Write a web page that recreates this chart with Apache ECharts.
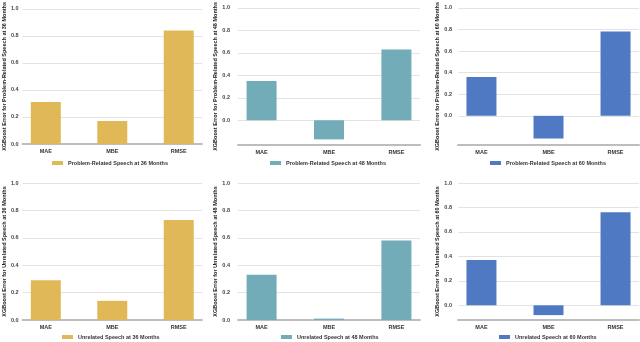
<!DOCTYPE html>
<html>
<head>
<meta charset="utf-8">
<script src="https://cdn.jsdelivr.net/npm/echarts@6/dist/echarts.min.js"></script>
<style>
  html, body { margin: 0; padding: 0; background: #fff; }
  #chart { width: 640px; height: 342px; }
</style>
</head>
<body>
<div id="chart"></div>
<script>
// categories and tick labels
const categories = ['MAE', 'MBE', 'RMSE'];
const yTicks = [0, 0.2, 0.4, 0.6, 0.8, 1.0];

// XGBoost errors
const problem36 = [0.31, 0.17, 0.84];
const problem48 = [0.35, -0.17, 0.63];
const problem60 = [0.36, -0.21, 0.78];
const unrelated36 = [0.29, 0.14, 0.73];
const unrelated48 = [0.33, 0.01, 0.58];
const unrelated60 = [0.37, -0.08, 0.76];

const seriesNames = [
  'Problem-Related Speech at 36 Months',
  'Problem-Related Speech at 48 Months',
  'Problem-Related Speech at 60 Months',
  'Unrelated Speech at 36 Months',
  'Unrelated Speech at 48 Months',
  'Unrelated Speech at 60 Months'
];
const axisNames = [
  'XGBoost Error for Problem-Related Speech at 36 Months',
  'XGBoost Error for Problem-Related Speech at 48 Months',
  'XGBoost Error for Problem-Related Speech at 60 Months',
  'XGBoost Error for Unrelated Speech at 36 Months',
  'XGBoost Error for Unrelated Speech at 48 Months',
  'XGBoost Error for Unrelated Speech at 60 Months'
];
const allValues = [problem36, problem48, problem60, unrelated36, unrelated48, unrelated60];
const yMins = [0, -0.22, -0.27, 0, 0, -0.12];

// layout of the six panels
const panels = [
  { left: 19, top: 6, width: 183, height: 138, color: '#E1B857', gap: 12, margin: 4, legendLeft: 52, legendTop: 160 },
  { left: 238, top: 6, width: 182, height: 139, color: '#72ACB8', gap: 18, margin: 8, legendLeft: 270, legendTop: 160 },
  { left: 458, top: 6, width: 181, height: 139, color: '#5079C4', gap: 14, margin: 6, legendLeft: 490, legendTop: 160 },
  { left: 19, top: 183, width: 183, height: 137, color: '#E1B857', gap: 11, margin: 4, legendLeft: 62, legendTop: 334 },
  { left: 238, top: 183, width: 182, height: 137, color: '#72ACB8', gap: 15, margin: 8, legendLeft: 281, legendTop: 334 },
  { left: 458, top: 183, width: 181, height: 137, color: '#5079C4', gap: 16, margin: 6, legendLeft: 499, legendTop: 334 }
];

const fontFamily = 'Liberation Sans, Arial, sans-serif';
const labelFont = { fontFamily: fontFamily, fontSize: 5.5, color: '#333', fontWeight: 'bold' };

const chart = echarts.init(document.getElementById('chart'), null, { renderer: 'canvas' });

chart.setOption({
  animation: false,
  grid: panels.map(p => ({ left: p.left, top: p.top, width: p.width, height: p.height })),
  xAxis: panels.map((p, i) => ({
    type: 'value',
    gridIndex: i,
    min: -0.35,
    max: 2.35,
    splitLine: { show: false },
    axisTick: { show: false },
    axisLine: { show: true, onZero: false, lineStyle: { color: '#BDBDBD', width: 2 } },
    axisLabel: Object.assign({
      customValues: [0, 1, 2],
      margin: 4,
      formatter: v => categories[Math.round(v)]
    }, labelFont)
  })),
  yAxis: panels.map((p, i) => ({
    type: 'value',
    gridIndex: i,
    min: yMins[i],
    max: 1.0,
    name: axisNames[i],
    nameLocation: 'middle',
    nameRotate: 90,
    nameGap: p.gap,
    nameTextStyle: { fontFamily: fontFamily, fontSize: 5.5, color: '#222', fontWeight: 'bold' },
    axisLine: { show: false },
    axisTick: { show: false, customValues: yTicks },
    splitLine: { show: true, lineStyle: { color: '#E3E3E3', width: 1 } },
    axisLabel: Object.assign({
      customValues: yTicks,
      margin: p.margin,
      formatter: v => v.toFixed(1)
    }, labelFont, { color: '#444' })
  })),
  legend: panels.map((p, i) => ({
    data: [seriesNames[i]],
    left: p.legendLeft,
    top: p.legendTop,
    itemWidth: 11,
    itemHeight: 4,
    itemGap: 5,
    padding: 0,
    icon: 'rect',
    textStyle: { fontFamily: fontFamily, fontSize: 5.5, color: '#333', fontWeight: 'bold' }
  })),
  series: panels.map((p, i) => ({
    name: seriesNames[i],
    type: 'bar',
    xAxisIndex: i,
    yAxisIndex: i,
    barWidth: 30,
    itemStyle: { color: p.color },
    data: categories.map((c, j) => [j, allValues[i][j]])
  }))
});
</script>
</body>
</html>
